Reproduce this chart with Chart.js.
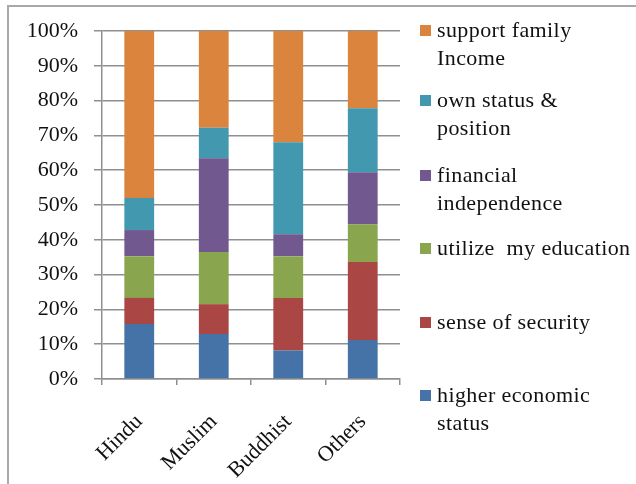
<!DOCTYPE html>
<html>
<head>
<meta charset="utf-8">
<script src="https://cdn.jsdelivr.net/npm/chart.js@4"></script>
<style>
  html, body { margin: 0; padding: 0; background: #fff; }
  #wrap { position: relative; width: 636px; height: 484px; overflow: hidden; }
  #frame { position: absolute; left: 7px; top: 5px; width: 700px; height: 600px;
           border: 2px solid #a9a9a9; box-sizing: border-box; }
  canvas { position: absolute; left: 0; top: 0; }
  .leg { position: absolute; left: 420px; font-family: "Liberation Serif", serif;
         font-size: 22px; line-height: 28px; letter-spacing: 0.4px; color: #111; }
  .leg i { position: absolute; left: 0; top: 9px; width: 11px; height: 11px; }
  .leg span { display: block; margin-left: 17px; white-space: pre; }
</style>
</head>
<body>
<div id="wrap">
  <div id="frame"></div>
  <canvas id="c" width="636" height="484"></canvas>
  <div id="legend"></div>
</div>
<script>
// Religion groups on the x axis
const categories = ["Hindu", "Muslim", "Buddhist", "Others"];

// Percent share of each motive (bottom to top of the stack)
const higherEconomicStatus = [15.8, 12.9, 8.2, 11.2];
const senseOfSecurity = [7.5, 8.6, 15.1, 22.4];
const utilizeEducation = [12.0, 15.0, 12.0, 10.9];
const financialIndependence = [7.5, 26.9, 6.3, 14.9];
const ownStatusPosition = [9.2, 8.8, 26.4, 18.4];
const supportFamilyIncome = [48.0, 27.8, 32.0, 22.2];

const yTicks = [0, 10, 20, 30, 40, 50, 60, 70, 80, 90, 100];

const SERIES = [
  { label: "higher economic status", lines: ["higher economic", "status"], data: higherEconomicStatus, color: "#4572A7", top: 381 },
  { label: "sense of security", lines: ["sense of security"], data: senseOfSecurity, color: "#AA4643", top: 308 },
  { label: "utilize  my education", lines: ["utilize  my education"], data: utilizeEducation, color: "#89A54E", top: 234 },
  { label: "financial independence", lines: ["financial", "independence"], data: financialIndependence, color: "#71588F", top: 161 },
  { label: "own status & position", lines: ["own status &", "position"], data: ownStatusPosition, color: "#4198AF", top: 86 },
  { label: "support family Income", lines: ["support family", "Income"], data: supportFamilyIncome, color: "#DB843D", top: 16 },
];

const FONT = { family: "'Liberation Serif', serif", size: 22 };
const GRID = "#8f8f8f";

new Chart(document.getElementById("c"), {
  type: "bar",
  data: {
    labels: categories,
    datasets: SERIES.map((s) => ({
      label: s.label,
      data: s.data,
      backgroundColor: s.color,
      borderWidth: 0,
      categoryPercentage: 1,
      barPercentage: 0.4,
    })),
  },
  options: {
    responsive: false,
    animation: false,
    layout: { padding: { top: 31, right: 236, left: 0, bottom: 0 } },
    plugins: { legend: { display: false }, tooltip: { enabled: false } },
    scales: {
      x: {
        stacked: true,
        border: { color: GRID, width: 1.5 },
        grid: { drawOnChartArea: false, color: GRID, lineWidth: 1.5, tickLength: 6 },
        ticks: { font: FONT, color: "#111", maxRotation: 45, minRotation: 45, padding: 24 },
        afterFit: (s) => { s.height = 105; },
      },
      y: {
        stacked: true,
        min: 0,
        max: 100,
        afterBuildTicks: (s) => { s.ticks = yTicks.map((v) => ({ value: v })); },
        border: { color: GRID, width: 1.5 },
        grid: { color: GRID, lineWidth: 1.5, tickLength: 8 },
        ticks: { font: FONT, color: "#111", padding: 16, callback: (v) => v + "%" },
        afterFit: (s) => { s.width = 102; },
      },
    },
  },
});

// HTML legend, top entry = top of stack
const legend = document.getElementById("legend");
SERIES.forEach((s) => {
  const div = document.createElement("div");
  div.className = "leg";
  div.style.top = s.top + "px";
  div.innerHTML = `<i style="background:${s.color}"></i>` + s.lines.map((l) => `<span>${l.replace("&", "&amp;")}</span>`).join("");
  legend.appendChild(div);
});
</script>
</body>
</html>
